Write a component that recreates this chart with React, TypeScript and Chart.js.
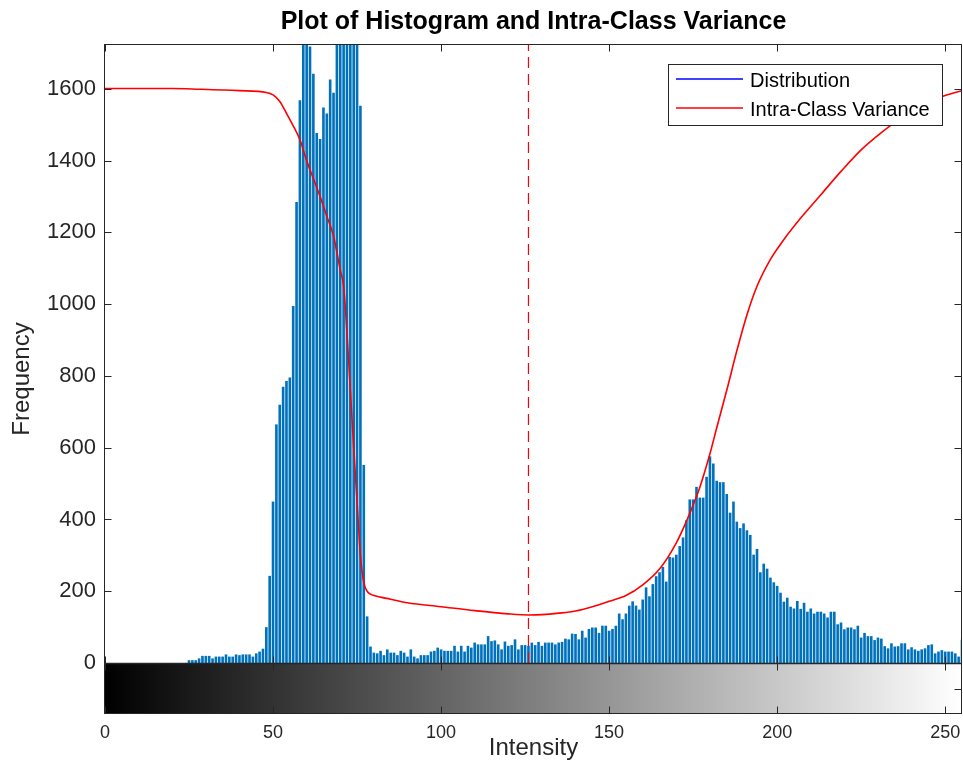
import React, { useEffect, useRef } from 'react';
import { Chart, registerables } from 'chart.js';

Chart.register(...registerables);

const FONT = "'Liberation Sans', Arial, Helvetica, sans-serif";
const TEXT_COLOR = '#262626';

const TITLE = 'Plot of Histogram and Intra-Class Variance';
const X_TITLE = 'Intensity';
const Y_TITLE = 'Frequency';
const LEGEND_LABELS = ['Distribution', 'Intra-Class Variance'];

const X_TICKS = [0, 50, 100, 150, 200, 250];
const Y_TICKS = [0, 200, 400, 600, 800, 1000, 1200, 1400, 1600];
const X_MIN = 0;
const X_MAX = 255;
const Y_MIN = -142;
const Y_MAX = 1725;

// histogram counts for intensities 0..255
const HIST_COUNTS = [
  // 0-24
  0, 0, 0, 0, 0, 0, 0, 0, 0, 0, 0, 0, 0, 0, 0, 0, 0, 0, 0, 0, 0, 0, 0, 0, 0,
  // 25-47
  8, 8, 8, 13, 20, 20, 20, 13, 18, 18, 18, 24, 18, 18, 24, 22, 24, 24, 24, 18, 27, 32, 40,
  // 48-79
  100, 243, 450, 665, 720, 770, 786, 796, 995, 1285, 1568, 1790, 1850, 1718, 1642, 1477,
  1460, 1548, 1531, 1626, 1589, 1900, 2000, 1950, 2050, 1880, 1820, 1760, 1553, 552, 130, 46,
  // 80-138
  29, 27, 34, 22, 38, 29, 29, 22, 34, 29, 18, 38, 18, 13, 22, 22, 22, 32, 34, 43,
  38, 34, 34, 34, 48, 32, 48, 32, 48, 43, 57, 52, 52, 52, 75, 61, 63, 52, 38, 60,
  48, 50, 66, 38, 50, 50, 48, 57, 50, 59, 48, 57, 57, 57, 52, 57, 59, 68, 66,
  // 139-197
  82, 81, 66, 90, 71, 95, 99, 99, 84, 104, 104, 90, 95, 104, 138, 122, 138, 160, 172, 160,
  149, 177, 211, 186, 220, 242, 253, 268, 227, 296, 294, 302, 326, 350, 398, 456, 456, 491, 461, 461,
  519, 576, 556, 508, 504, 504, 471, 419, 450, 394, 376, 389, 370, 357, 302, 318, 253, 277, 263,
  // 198-255
  238, 225, 215, 196, 171, 182, 157, 152, 173, 151, 168, 143, 152, 138, 143, 143, 138, 127, 143, 143,
  108, 113, 94, 99, 99, 94, 104, 71, 84, 75, 75, 64, 71, 68, 47, 41, 55, 46, 47, 55,
  55, 38, 44, 38, 34, 38, 41, 50, 52, 27, 32, 36, 32, 32, 32, 27, 18, 65,
];

// intra-class variance curve (scaled), sampled intensities and values
const VARIANCE_X = [
  0, 20, 28, 40, 48, 50, 52, 54, 56, 58, 60, 62, 64, 66, 68, 70, 71, 72, 73, 74, 75, 76, 77, 78, 79,
  80, 85, 90, 100, 110, 120, 126, 130, 135, 140, 145, 150, 155, 160, 165, 170, 173, 175, 177, 180,
  182, 185, 188, 191, 194, 198, 202, 207, 213, 219, 225, 231, 237, 243, 249, 255,
];
const VARIANCE_Y = [
  1601, 1601, 1599, 1595, 1590, 1583, 1565, 1532, 1497, 1458, 1400, 1350, 1300, 1245, 1190, 1095, 1050, 920, 760, 600, 450, 300, 225, 200, 192,
  188, 178, 168, 157, 146, 137, 134, 135, 139, 145, 157, 172, 188, 218, 262, 335, 395, 440, 490, 583,
  655, 760, 870, 970, 1050, 1125, 1180, 1240, 1305, 1370, 1430, 1478, 1520, 1553, 1578, 1595,
];

const THRESHOLD = 126;

const decorPlugin = {
  id: 'decor',
  beforeDatasetsDraw(chart: any) {
    const { ctx, chartArea } = chart;
    const xs = chart.scales.x;
    const ys = chart.scales.y;
    const x0 = xs.getPixelForValue(X_MIN);
    const x1 = xs.getPixelForValue(X_MAX);
    const yTop = ys.getPixelForValue(0);
    const yBot = chartArea.bottom;
    ctx.save();
    const g = ctx.createLinearGradient(x0, 0, x1, 0);
    g.addColorStop(0, '#000000');
    g.addColorStop(1, '#ffffff');
    ctx.fillStyle = g;
    ctx.fillRect(x0, yTop, x1 - x0, yBot - yTop);
    ctx.restore();
  },
  afterDatasetsDraw(chart: any) {
    const { ctx, chartArea } = chart;
    const xs = chart.scales.x;
    const ys = chart.scales.y;
    const L = Math.round(chartArea.left) - 0.5;
    const R = Math.round(chartArea.right) - 0.5;
    const T = Math.round(chartArea.top) + 0.5;
    const B = Math.round(chartArea.bottom) - 0.5;
    const y0 = Math.round(ys.getPixelForValue(0)) + 0.5;
    ctx.save();
    ctx.strokeStyle = TEXT_COLOR;
    ctx.lineWidth = 1;
    // frame
    ctx.strokeRect(L, T, R - L, B - T);
    // baseline / separator
    ctx.lineWidth = 1.6;
    ctx.beginPath();
    ctx.moveTo(L, y0);
    ctx.lineTo(R, y0);
    ctx.stroke();
    ctx.lineWidth = 1;
    const tl = 7;
    ctx.beginPath();
    X_TICKS.forEach((v) => {
      const px = Math.round(xs.getPixelForValue(v)) + 0.5;
      ctx.moveTo(px, B);
      ctx.lineTo(px, B - tl);
      ctx.moveTo(px, y0 - tl);
      ctx.lineTo(px, y0 + tl);
      ctx.moveTo(px, T);
      ctx.lineTo(px, T + tl);
    });
    Y_TICKS.forEach((v) => {
      const py = Math.round(ys.getPixelForValue(v)) + 0.5;
      ctx.moveTo(L, py);
      ctx.lineTo(L + tl, py);
      ctx.moveTo(R, py);
      ctx.lineTo(R - tl, py);
    });
    const pm = Math.round(ys.getPixelForValue(Y_MIN / 2)) + 0.5;
    ctx.moveTo(R, pm);
    ctx.lineTo(R - tl, pm);
    ctx.stroke();

    // legend
    const lx = 668.5;
    const ly = 64.5;
    const lw = 274;
    const lh = 61;
    ctx.fillStyle = '#ffffff';
    ctx.fillRect(lx, ly, lw, lh);
    ctx.strokeStyle = TEXT_COLOR;
    ctx.strokeRect(lx, ly, lw, lh);
    const rows = [
      { y: 79, color: '#0000ff', text: LEGEND_LABELS[0] },
      { y: 108, color: '#ff0000', text: LEGEND_LABELS[1] },
    ];
    ctx.font = `20px ${FONT}`;
    ctx.textBaseline = 'middle';
    ctx.textAlign = 'left';
    rows.forEach((r) => {
      ctx.strokeStyle = r.color;
      ctx.lineWidth = 1.5;
      ctx.beginPath();
      ctx.moveTo(676, r.y);
      ctx.lineTo(743, r.y);
      ctx.stroke();
      ctx.fillStyle = '#000000';
      ctx.fillText(r.text, 750, r.y + 2);
    });
    ctx.restore();
  },
  afterDraw(chart: any) {
    const { ctx, chartArea } = chart;
    ctx.save();
    ctx.font = `bold 25px ${FONT}`;
    ctx.fillStyle = '#000000';
    ctx.textAlign = 'center';
    ctx.textBaseline = 'middle';
    ctx.fillText(TITLE, (chartArea.left + chartArea.right) / 2, 22);
    ctx.restore();
  },
};

export default function App() {
  const canvasRef = useRef<HTMLCanvasElement | null>(null);

  useEffect(() => {
    const canvas = canvasRef.current;
    if (!canvas) return;
    Chart.defaults.font.family = FONT;

    const histData = HIST_COUNTS.map((v, i) => ({ x: i, y: v }));
    const varData = VARIANCE_X.map((x, i) => ({ x, y: VARIANCE_Y[i] }));
    const thrData = [
      { x: THRESHOLD, y: 0 },
      { x: THRESHOLD, y: Y_MAX },
    ];

    const chart = new Chart(canvas, {
      type: 'bar',
      data: {
        datasets: [
          {
            type: 'line',
            label: LEGEND_LABELS[1],
            data: varData,
            borderColor: '#ff0000',
            borderWidth: 1.6,
            pointRadius: 0,
            cubicInterpolationMode: 'monotone',
            fill: false,
            order: 0,
          } as any,
          {
            type: 'line',
            label: 'Threshold',
            data: thrData,
            borderColor: '#ff0000',
            borderWidth: 1.2,
            borderDash: [11, 6],
            pointRadius: 0,
            fill: false,
            order: 1,
          } as any,
          {
            type: 'bar',
            label: LEGEND_LABELS[0],
            data: histData,
            backgroundColor: '#0072BD',
            borderWidth: 0,
            barPercentage: 0.78,
            categoryPercentage: 1,
            order: 2,
          } as any,
        ],
      },
      options: {
        animation: false,
        responsive: false,
        maintainAspectRatio: false,
        layout: { padding: { top: 44, right: 1, left: 0, bottom: 0 } },
        plugins: {
          legend: { display: false },
          tooltip: { enabled: false },
          title: { display: false },
        },
        scales: {
          x: {
            type: 'linear',
            min: X_MIN,
            max: X_MAX,
            offset: false,
            afterBuildTicks: (s: any) => {
              s.ticks = X_TICKS.map((v) => ({ value: v }));
            },
            afterFit: (s: any) => {
              s.height = 51;
              s.paddingLeft = 0;
              s.paddingRight = 0;
            },
            grid: { display: false, drawTicks: false },
            border: { display: false },
            ticks: {
              font: { size: 18, family: FONT },
              color: TEXT_COLOR,
              padding: 8,
              maxRotation: 0,
              autoSkip: false,
              callback: (v: any) => String(v),
            },
            title: {
              display: true,
              text: X_TITLE,
              font: { size: 24, family: FONT },
              color: TEXT_COLOR,
              padding: { top: 0, bottom: 2 },
            },
          },
          y: {
            type: 'linear',
            min: Y_MIN,
            max: Y_MAX,
            afterBuildTicks: (s: any) => {
              s.ticks = Y_TICKS.map((v) => ({ value: v }));
            },
            afterFit: (s: any) => {
              s.width = 105;
              s.paddingTop = 0;
              s.paddingBottom = 0;
            },
            grid: { display: false, drawTicks: false },
            border: { display: false },
            ticks: {
              font: { size: 22, family: FONT },
              color: TEXT_COLOR,
              padding: 9,
              autoSkip: false,
              callback: (v: any) => String(v),
            },
            title: {
              display: true,
              text: Y_TITLE,
              font: { size: 24, family: FONT },
              color: TEXT_COLOR,
              padding: { top: 8, bottom: 0 },
            },
          },
        },
      } as any,
      plugins: [decorPlugin],
    });

    return () => {
      chart.destroy();
    };
  }, []);

  return (
    <div style={{ position: 'fixed', left: 0, top: 0, width: 963, height: 765, background: '#ffffff' }}>
      <canvas ref={canvasRef} width={963} height={765} style={{ display: 'block' }} />
    </div>
  );
}
